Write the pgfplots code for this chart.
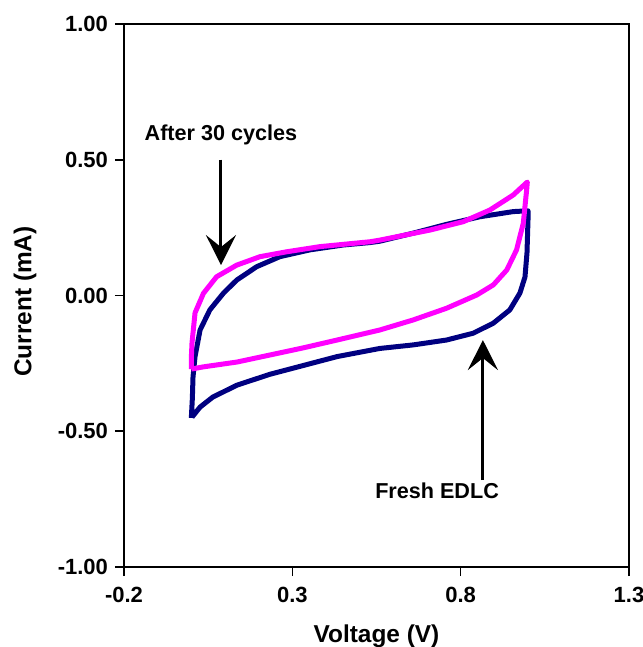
\documentclass[border=0pt]{standalone}
\usepackage{fontspec}
\setmainfont{Liberation Sans}
\usepackage{pgfplots}
\pgfplotsset{compat=1.18}
\usetikzlibrary{arrows.meta}
\definecolor{navy}{RGB}{0,0,128}
\definecolor{mag}{RGB}{255,0,255}
\begin{document}
\begin{tikzpicture}
\begin{axis}[
  scale only axis, width=252.5bp, height=271.5bp,
  xmin=-0.2, xmax=1.3, ymin=-1, ymax=1,
  xtick={-0.2,0.3,0.8,1.3}, ytick={-1,-0.5,0,0.5,1},
  xticklabels={-0.2,0.3,0.8,1.3}, yticklabels={-1.00,-0.50,0.00,0.50,1.00},
  tick align=outside, xtick pos=left, ytick pos=left,
  major tick length=4.5bp,
  axis line style={line width=1bp},
  tick style={line width=0.8bp, black},
  ticklabel style={font=\fontsize{11bp}{12bp}\selectfont\bfseries},
  xticklabel style={yshift=-2bp},
  xlabel={Voltage (V)}, ylabel={Current (mA)},
  label style={font=\fontsize{12.2bp}{14bp}\selectfont\bfseries},
  xlabel style={at={(rel axis cs:0.5,0)}, anchor=center, yshift=-34.5bp},
  ylabel style={at={(rel axis cs:0,0.5)}, anchor=center, yshift=49.5bp, xshift=-3bp},
  clip=false,
]
\coordinate (sw) at (rel axis cs:0,0);
\coordinate (ne) at (rel axis cs:1,1);
\addplot[navy, line width=2.5bp, line join=round] coordinates {
(0.000,-0.451) (0.003,-0.380) (0.005,-0.300) (0.011,-0.225) (0.026,-0.127)
(0.055,-0.053) (0.095,0.008) (0.135,0.057) (0.194,0.106) (0.263,0.143)
(0.352,0.168) (0.451,0.186) (0.531,0.195) (0.560,0.200) (0.660,0.230)
(0.758,0.262) (0.857,0.290) (0.956,0.309) (1.000,0.312) (1.000,0.278)
(0.997,0.157) (0.991,0.068) (0.976,0.009) (0.946,-0.053) (0.897,-0.102)
(0.837,-0.139) (0.758,-0.164) (0.659,-0.182) (0.560,-0.195) (0.433,-0.225)
(0.332,-0.258) (0.234,-0.290) (0.136,-0.330) (0.064,-0.374) (0.026,-0.411)
(0.002,-0.448)
};
\addplot[mag, line width=2.5bp, line join=round] coordinates {
(0.000,-0.271) (0.000,-0.230) (0.002,-0.175) (0.011,-0.064) (0.036,0.008)
(0.075,0.069) (0.135,0.112) (0.204,0.143) (0.283,0.161) (0.382,0.180)
(0.531,0.198) (0.560,0.204) (0.709,0.241) (0.808,0.272) (0.887,0.315)
(0.956,0.370) (0.998,0.418) (0.996,0.389) (0.986,0.266) (0.966,0.168)
(0.937,0.094) (0.897,0.039) (0.848,0.002) (0.758,-0.047) (0.659,-0.090)
(0.560,-0.127) (0.433,-0.164) (0.332,-0.193) (0.234,-0.219) (0.136,-0.245)
(0.035,-0.263) (0.000,-0.271)
};
\draw[line width=1.5bp, -{Stealth[length=15bp,width=15bp,inset=6bp]}] (axis cs:0.088,0.50) -- (axis cs:0.088,0.112);
\draw[line width=1.5bp, -{Stealth[length=15bp,width=15bp,inset=6bp]}] (axis cs:0.866,-0.68) -- (axis cs:0.866,-0.164);
\node[font=\fontsize{10.8bp}{12bp}\selectfont\bfseries] at (axis cs:0.088,0.591) {After 30 cycles};
\node[font=\fontsize{10.8bp}{12bp}\selectfont\bfseries] at (axis cs:0.730,-0.720) {Fresh EDLC};
\end{axis}
\pgfresetboundingbox
\path ([shift={(-62bp,-40bp)}]sw) rectangle ([shift={(7bp,12bp)}]ne);
\end{tikzpicture}
\end{document}
